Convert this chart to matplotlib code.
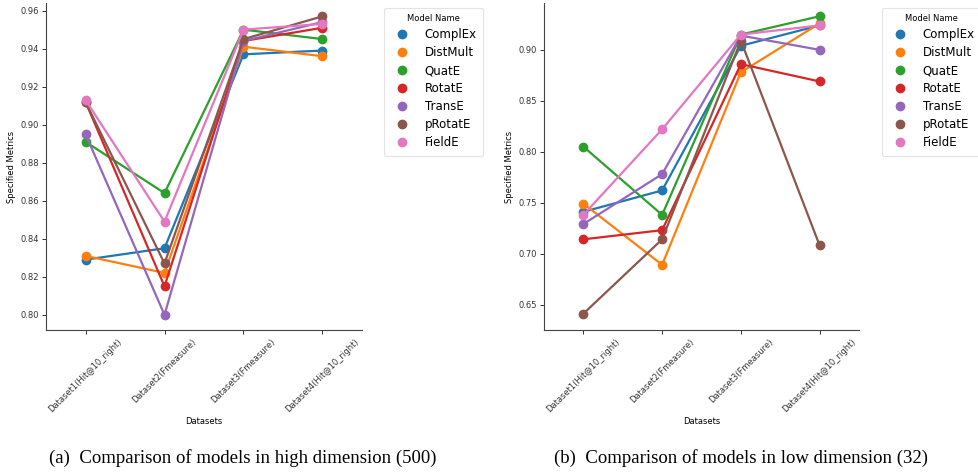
import matplotlib.pyplot as plt
from matplotlib.lines import Line2D

datasets = ["Dataset1(Hit@10_right)", "Dataset2(Fmeasure)",
            "Dataset3(Fmeasure)", "Dataset4(Hit@10_right)"]
models = ["ComplEx", "DistMult", "QuatE", "RotatE", "TransE", "pRotatE", "FieldE"]
colors = ["#1f77b4", "#ff7f0e", "#2ca02c", "#d62728", "#9467bd", "#8c564b", "#e377c2"]

# high dimension (500)
high_dim = {
    "ComplEx":  [0.829, 0.835, 0.937, 0.939],
    "DistMult": [0.831, 0.822, 0.941, 0.936],
    "QuatE":    [0.891, 0.864, 0.950, 0.945],
    "RotatE":   [0.912, 0.815, 0.944, 0.951],
    "TransE":   [0.895, 0.800, 0.944, 0.954],
    "pRotatE":  [0.912, 0.827, 0.945, 0.957],
    "FieldE":   [0.913, 0.849, 0.950, 0.953],
}

# low dimension (32)
low_dim = {
    "ComplEx":  [0.741, 0.762, 0.904, 0.924],
    "DistMult": [0.749, 0.689, 0.878, 0.926],
    "QuatE":    [0.805, 0.738, 0.915, 0.933],
    "RotatE":   [0.714, 0.723, 0.886, 0.869],
    "TransE":   [0.729, 0.778, 0.914, 0.900],
    "pRotatE":  [0.641, 0.714, 0.909, 0.708],
    "FieldE":   [0.738, 0.822, 0.915, 0.924],
}

W, H = 979, 475
fig = plt.figure(figsize=(W / 100, H / 100), dpi=100)


def draw_panel(rect, data, ylim, yticks, legend_x, caption, caption_x):
    ax = fig.add_axes(rect)
    x = list(range(len(datasets)))
    for name, c in zip(models, colors):
        ax.plot(x, data[name], color=c, lw=1.6, marker="o", ms=6, zorder=3)
    ax.set_xlim(-0.5, 3.5)
    ax.set_ylim(*ylim)
    ax.set_yticks(yticks)
    ax.set_yticklabels([f"{t:.2f}" for t in yticks])
    ax.set_xticks(x)
    ax.set_xticklabels(datasets, rotation=45)
    ax.tick_params(labelsize=6, length=3, width=0.7, colors="#333333", pad=2)
    for s in ["top", "right"]:
        ax.spines[s].set_visible(False)
    for s in ["left", "bottom"]:
        ax.spines[s].set_color("#444444")
        ax.spines[s].set_linewidth(0.8)
    ax.set_xlabel("Datasets", fontsize=6, labelpad=2)
    ax.set_ylabel("Specified Metrics", fontsize=6, labelpad=3)

    handles = [Line2D([], [], color=c, marker="o", ls="", ms=6) for c in colors]
    leg = fig.legend(handles, models, title="Model Name", fontsize=8.5,
                     title_fontsize=6, loc="upper left",
                     bbox_to_anchor=(legend_x, 1 - 8 / H), frameon=True,
                     borderaxespad=0, handletextpad=0.9, labelspacing=0.42,
                     borderpad=0.55)
    leg.get_frame().set_edgecolor("#dddddd")
    leg.get_frame().set_linewidth(0.8)

    fig.text(caption_x, 1 - 458 / H, caption, ha="center", va="center",
             fontsize=13.5, family="Liberation Serif")
    return ax


draw_panel([46 / W, 1 - 330 / H, 316 / W, 327 / H], high_dim,
           (0.792, 0.964), [0.80, 0.82, 0.84, 0.86, 0.88, 0.90, 0.92, 0.94, 0.96],
           384 / W, "(a)  Comparison of models in high dimension (500)", 243 / W)

draw_panel([544 / W, 1 - 330 / H, 315 / W, 327 / H], low_dim,
           (0.625, 0.946), [0.65, 0.70, 0.75, 0.80, 0.85, 0.90],
           882 / W, "(b)  Comparison of models in low dimension (32)", 741 / W)

fig.savefig("out.png", dpi=100)
